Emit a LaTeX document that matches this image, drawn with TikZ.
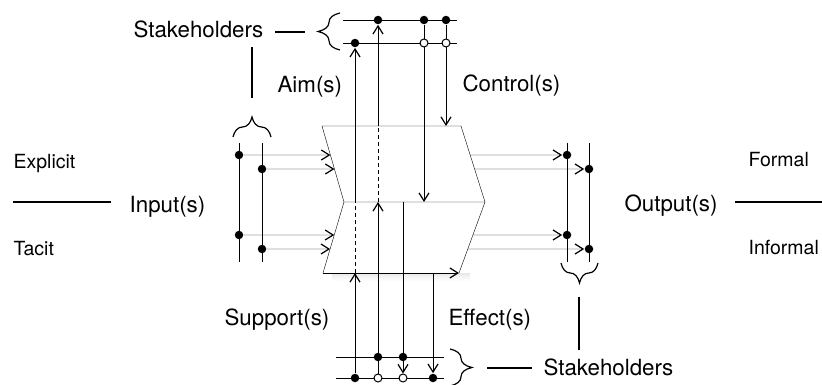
\documentclass[tikz,border=0pt]{standalone}
\usepackage{fontspec}
\setmainfont{TeX Gyre Heros}
\usetikzlibrary{arrows.meta,decorations.pathreplacing,calc,backgrounds}
\begin{document}
\begin{tikzpicture}[x=1pt,y=-1pt,line width=1.2pt,
  arr/.style={-{Straight Barb[length=8pt,width=10pt,line width=1.2pt]}},
  fdot/.style={circle,fill=black,inner sep=0pt,minimum size=8.5pt},
  odot/.style={circle,draw=black,fill=white,inner sep=0pt,minimum size=8pt,line width=1pt},
  lbl/.style={font=\fontsize{22.3}{26}\selectfont,inner sep=0pt,anchor=base west},
  slbl/.style={font=\fontsize{19.5}{23}\selectfont,inner sep=0pt,anchor=base west},
  brc/.style={decorate,decoration={brace,amplitude=#1}},
  dsh/.style={dash pattern=on 4pt off 3pt}]
\useasboundingbox (0,0) rectangle (822,385);
% box corners
\coordinate (TL) at (322,126);
\coordinate (TR) at (461,126);
\coordinate (ML) at (344,202);
\coordinate (MR) at (485,202);
\coordinate (BL) at (323,273);
\coordinate (BR) at (459,273);

% dots top
\node[fdot] (ta1) at (378,20) {};
\node[fdot] (tc1) at (424,20) {};
\node[fdot] (tc2) at (446,20) {};
\node[fdot] (ta2) at (355,43) {};
\node[odot] (to1) at (424,43) {};
\node[odot] (to2) at (446,43) {};
% dots bottom
\node[fdot] (bs1) at (355,378) {};
\node[odot] (bo1) at (378,378) {};
\node[odot] (bo2) at (403,378) {};
\node[fdot] (bf3) at (433,378) {};
\node[fdot] (bf1) at (378,357) {};
\node[fdot] (bf2) at (403,357) {};
% input dots
\node[fdot] (i1) at (239,155) {};
\node[fdot] (i2) at (262,169) {};
\node[fdot] (i3) at (239,235) {};
\node[fdot] (i4) at (262,249) {};
% output dots
\node[fdot] (o1) at (567,155) {};
\node[fdot] (o2) at (589,169) {};
\node[fdot] (o3) at (567,235) {};
\node[fdot] (o4) at (589,249) {};

% labels
\node[lbl] (stk1) at (133,38) {Stakeholders};
\node[lbl] (aim) at (277,93) {Aim(s)};
\node[lbl] (ctl) at (462,92) {Control(s)};
\node[slbl] (exp) at (13,168) {Explicit};
\node[lbl] (inp) at (129,212) {Input(s)};
\node[slbl] (tac) at (13,255) {Tacit};
\node[lbl] (out) at (624,211) {Output(s)};
\node[slbl] (frm) at (748,167) {Formal};
\node[slbl] (inf) at (748,254) {Informal};
\node[lbl] (sup) at (224,325) {Support(s)};
\node[lbl] (eff) at (448,325) {Effect(s)};
\node[lbl] (stk2) at (543,375) {Stakeholders};

\begin{scope}[on background layer]
% soft shadow under the box
\foreach \i/\o in {1/0.10,2/0.08,3/0.065,4/0.05,5/0.04,6/0.03,7/0.02,8/0.01}
  \fill[black,opacity=\o] (332,273+\i-1) rectangle (470,273+\i);
% box
\fill[white] (TL) -- (TR) -- (MR) -- (BR) -- (BL) -- (ML) -- cycle;
\draw (TL) -- (TR) -- (MR) -- (ML) -- cycle;
\draw (ML) -- (BL);
\draw (MR) -- (BR);
\draw[arr] (BL) -- (BR);

% stakeholder rails
\draw (343,20) -- (457,20);
\draw (343,43) -- (457,43);
\draw (336,357) -- (444,357);
\draw (336,378) -- (444,378);

% support -> aim (x=355)
\draw[arr] (bs1) -- (bs1 |- BL);
\draw[dsh] (bs1 |- BL) -- (bs1 |- ML);
\draw[arr] (bs1 |- ML) -- (ta2);
% x=378
\draw[arr] (bo1.center) -- (bo1 |- ML);
\draw[dsh] (bo1 |- ML) -- (bo1 |- TL);
\draw[arr] (bo1 |- TL) -- (ta1);
% controls
\draw[arr] (tc1) -- (tc1 |- ML);
\draw[arr] (tc2) -- (tc2 |- TL);
% effects
\draw[arr] (bo2 |- ML) -- (bo2);
\draw[arr] (bf3 |- BL) -- (bf3);

% input rails and arrows
\draw (239,143) -- (239,262);
\draw (262,143) -- (262,262);
\coordinate (e1) at ($(TL)!0.3816!(ML)$);
\coordinate (e2) at ($(TL)!0.5658!(ML)$);
\coordinate (e3) at ($(ML)!0.4648!(BL)$);
\coordinate (e4) at ($(ML)!0.662!(BL)$);
\draw[arr] (i1) -- (e1);
\draw[arr] (i2) -- (e2);
\draw[arr] (i3) -- (e3);
\draw[arr] (i4) -- (e4);

% output rails and arrows
\draw (567,143) -- (567,262);
\draw (589,143) -- (589,262);
\coordinate (s1) at ($(TR)!0.3816!(MR)$);
\coordinate (s2) at ($(TR)!0.5658!(MR)$);
\coordinate (s3) at ($(MR)!0.4648!(BR)$);
\coordinate (s4) at ($(MR)!0.662!(BR)$);
\draw[arr] (s1) -- (o1);
\draw[arr] (s2) -- (o2);
\draw[arr] (s3) -- (o3);
\draw[arr] (s4) -- (o4);
\end{scope}

% braces
\draw[brc=22] (340,50) -- (340,13);
\draw[brc=20] (233,137) -- (271,137);
\draw[brc=20] (598,263) -- (561,263);
\draw[brc=22] (450,349) -- (450,386);

% label leaders
\coordinate (l1a) at (275,32); \coordinate (l1b) at (305,32);
\draw (l1a) -- (l1b);
\coordinate (l2a) at (252,47); \coordinate (l2b) at (252,98);
\draw (l2a) -- (l2b);
\coordinate (l3a) at (13,202); \coordinate (l3b) at (111,202);
\draw (l3a) -- (l3b);
\coordinate (l4a) at (735,202); \coordinate (l4b) at (822,202);
\draw (l4a) -- (l4b);
\coordinate (l5a) at (579,297); \coordinate (l5b) at (579,350);
\draw (l5a) -- (l5b);
\coordinate (l6a) at (487,368); \coordinate (l6b) at (532,368);
\draw (l6a) -- (l6b);
\end{tikzpicture}
\end{document}
